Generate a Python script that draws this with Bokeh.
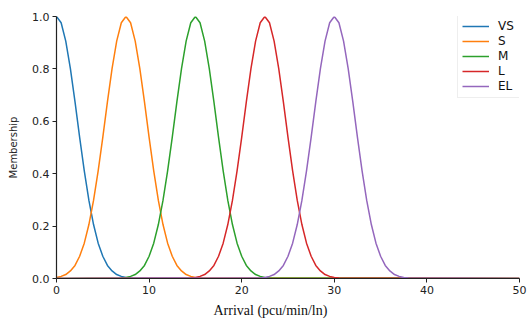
from bokeh.plotting import figure
from bokeh.models import Range1d, Legend, LegendItem, Title, FixedTicker
from bokeh.embed import file_html
from bokeh.resources import INLINE

# x sample positions (pcu/min/ln)
x_vs = [i / 2 for i in range(0, 17)] + [50]
x_s = [i / 2 for i in range(0, 32)] + [50]
x_m = [0] + [7 + i / 2 for i in range(0, 33)] + [50]
x_l = [0] + [14.5 + i / 2 for i in range(0, 33)] + [50]
x_el = [0] + [22 + i / 2 for i in range(0, 33)] + [50]

# membership values
y_vs = [1.0, 0.976, 0.906, 0.801, 0.674, 0.539, 0.411, 0.298, 0.206, 0.135,
        0.085, 0.050, 0.029, 0.015, 0.008, 0.004, 0.002, 0.0]
y_s = [0.004, 0.008, 0.015, 0.029, 0.050, 0.085, 0.135, 0.206, 0.298, 0.411,
       0.539, 0.674, 0.801, 0.906, 0.976, 1.0, 0.976, 0.906, 0.801, 0.674,
       0.539, 0.411, 0.298, 0.206, 0.135, 0.085, 0.050, 0.029, 0.015, 0.008,
       0.004, 0.002, 0.0]
y_m = [0.0, 0.002, 0.004, 0.008, 0.015, 0.029, 0.050, 0.085, 0.135, 0.206,
       0.298, 0.411, 0.539, 0.674, 0.801, 0.906, 0.976, 1.0, 0.976, 0.906,
       0.801, 0.674, 0.539, 0.411, 0.298, 0.206, 0.135, 0.085, 0.050, 0.029,
       0.015, 0.008, 0.004, 0.002, 0.0]
y_l = [0.0, 0.002, 0.004, 0.008, 0.015, 0.029, 0.050, 0.085, 0.135, 0.206,
       0.298, 0.411, 0.539, 0.674, 0.801, 0.906, 0.976, 1.0, 0.976, 0.906,
       0.801, 0.674, 0.539, 0.411, 0.298, 0.206, 0.135, 0.085, 0.050, 0.029,
       0.015, 0.008, 0.004, 0.002, 0.0]
y_el = [0.0, 0.002, 0.004, 0.008, 0.015, 0.029, 0.050, 0.085, 0.135, 0.206,
        0.298, 0.411, 0.539, 0.674, 0.801, 0.906, 0.976, 1.0, 0.976, 0.906,
        0.801, 0.674, 0.539, 0.411, 0.298, 0.206, 0.135, 0.085, 0.050, 0.029,
        0.015, 0.008, 0.004, 0.002, 0.0]

names = ["VS", "S", "M", "L", "EL"]
colors = ["#1f77b4", "#ff7f0e", "#2ca02c", "#d62728", "#9467bd"]
x_ticks = [0, 10, 20, 30, 40, 50]
y_ticks = [0.0, 0.2, 0.4, 0.6, 0.8, 1.0]

p = figure(width=532, height=322, output_backend="svg", toolbar_location=None,
           x_range=Range1d(0, 50), y_range=Range1d(0, 1),
           min_border_left=56, min_border_right=13, min_border_top=16,
           min_border_bottom=30)
p.outline_line_color = None
p.grid.visible = False
p.background_fill_color = "white"

items = []
for xs, ys, n, c in zip([x_vs, x_s, x_m, x_l, x_el], [y_vs, y_s, y_m, y_l, y_el], names, colors):
    r = p.line(xs, ys, line_color=c, line_width=1.5)
    items.append(LegendItem(label=n, renderers=[r]))

for ax in (p.xaxis[0], p.yaxis[0]):
    ax.axis_line_color = "#222222"
    ax.axis_line_width = 1.2
    ax.major_tick_line_color = "#222222"
    ax.major_tick_out = 4
    ax.major_tick_in = 0
    ax.minor_tick_line_color = None
    ax.major_label_text_font = "DejaVu Sans"
    ax.major_label_text_font_size = "11px"
    ax.major_label_text_color = "#222222"
    ax.major_label_standoff = 3

p.xaxis[0].ticker = FixedTicker(ticks=x_ticks)
p.yaxis[0].ticker = FixedTicker(ticks=y_ticks)
p.xaxis[0].major_label_overrides = {t: str(t) for t in x_ticks}
p.yaxis[0].major_label_overrides = {t: f"{t:.1f}" for t in y_ticks}

p.yaxis[0].axis_label = "Membership"
p.yaxis[0].axis_label_text_font = "DejaVu Sans"
p.yaxis[0].axis_label_text_font_size = "10px"
p.yaxis[0].axis_label_text_font_style = "normal"
p.yaxis[0].axis_label_text_color = "#222222"
p.yaxis[0].axis_label_standoff = 10

p.add_layout(Title(text="Arrival (pcu/min/ln)", align="left", offset=157,
                   text_font="Liberation Serif", text_font_size="14px",
                   text_font_style="normal", text_color="#111111",
                   standoff=9), "below")

legend = Legend(items=items, location=(401, 180), orientation="vertical",
                label_text_font="DejaVu Sans", label_text_font_size="12px",
                label_text_color="#111111", glyph_width=27, glyph_height=12,
                label_height=12, label_standoff=9, spacing=1, padding=4,
                margin=0, border_line_color="#dddddd", border_line_width=1,
                background_fill_alpha=0.8)
p.add_layout(legend, "center")

open("out.html", "w").write(file_html(p, INLINE))
